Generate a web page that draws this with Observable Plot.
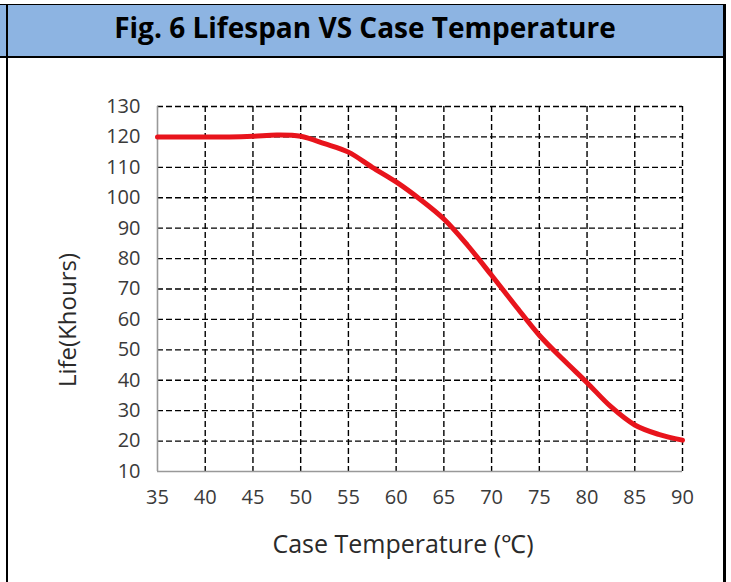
<!DOCTYPE html>
<html>
<head>
<meta charset="utf-8">
<script src="https://cdn.jsdelivr.net/npm/d3@7"></script>
<script src="https://cdn.jsdelivr.net/npm/@observablehq/plot@0.6"></script>
<style>
  html, body { margin: 0; padding: 0; background: #fff; }
  #wrap { position: relative; width: 731px; height: 582px; overflow: hidden; background: #fff; }
  #header { position: absolute; left: 0; top: 4px; width: 724px; height: 53px; background: #8db4e2;
            border-top: 1px solid #000; box-sizing: border-box; }
  #title { position: absolute; left: 6px; width: 718px; top: 10px; text-align: center;
           font-family: "Open Sans", sans-serif; font-weight: 700; font-size: 28px; color: #000; line-height: 34px; }
  #hline { position: absolute; left: 0; top: 56px; width: 724px; height: 2px; background: #000; z-index: 3; }
  #vleft { position: absolute; left: 6px; top: 4px; width: 2px; height: 578px; background: #000; z-index: 3; }
  #vright { position: absolute; left: 723px; top: 4px; width: 3px; height: 578px; background: #000; z-index: 3; }
  #chart { position: absolute; left: 0; top: 59px; }
</style>
</head>
<body>
<div id="wrap">
  <div id="header"></div>
  <div id="title">Fig. 6 Lifespan VS Case Temperature</div>
  <div id="hline"></div>
  <div id="vleft"></div>
  <div id="vright"></div>
  <div id="chart"></div>
</div>
<script>
// Data
const temps = [35, 37.5, 40, 42.5, 45, 47.5, 50, 52.5, 55, 57.5, 60, 62.5, 65, 67.5, 70, 72.5, 75, 77.5, 80, 82.5, 85, 87.5, 90];
const life  = [120, 120, 120, 120, 120.2, 120.6, 120.2, 117.8, 115, 110, 105.2, 99.5, 93, 84.3, 74.5, 64.5, 54.8, 46.8, 39.2, 31.3, 25.3, 22.2, 20.3];
const xTicks = [35, 40, 45, 50, 55, 60, 65, 70, 75, 80, 85, 90];
const yTicks = [10, 20, 30, 40, 50, 60, 70, 80, 90, 100, 110, 120, 130];
const xLabel = "Case Temperature (\u2103)";
const yLabel = "Life(Khours)";

const data = temps.map((t, i) => ({t, life: life[i]}));

const chart = Plot.plot({
  width: 731,
  height: 523,
  marginLeft: 157,
  marginRight: 49,
  marginTop: 47,
  marginBottom: 111,
  style: { fontFamily: "'Open Sans', sans-serif", color: "#3a3a3a", background: "transparent" },
  x: { domain: [35, 90] },
  y: { domain: [10, 130] },
  marks: [
    Plot.gridX(xTicks.slice(1), { stroke: "#000", strokeOpacity: 1, strokeWidth: 1.4, strokeDasharray: "6,3" }),
    Plot.gridY(yTicks.slice(1), { stroke: "#000", strokeOpacity: 1, strokeWidth: 1.4, strokeDasharray: "6,3" }),
    Plot.ruleX([35], { stroke: "#999", strokeWidth: 1.6 }),
    Plot.ruleY([10], { stroke: "#999", strokeWidth: 1.6 }),
    Plot.axisX(xTicks, { tickSize: 0, tickPadding: 18, label: null, fontSize: 20 }),
    Plot.axisY(yTicks, { tickSize: 0, tickPadding: 17, label: null, fontSize: 20 }),
    Plot.line(data, { x: "t", y: "life", stroke: "#e8141c", strokeWidth: 5, curve: "catmull-rom" }),
    Plot.text([xLabel], { frameAnchor: "bottom", lineAnchor: "bottom", textAnchor: "middle", dy: 81, dx: -17, fontSize: 25, fill: "#2a2a2a", text: d => d }),
    Plot.text([yLabel], { frameAnchor: "left", textAnchor: "middle", lineAnchor: "middle", rotate: -90, dx: -89, dy: 31, fontSize: 24, fill: "#2a2a2a", text: d => d })
  ]
});
document.getElementById("chart").appendChild(chart);
</script>
</body>
</html>
